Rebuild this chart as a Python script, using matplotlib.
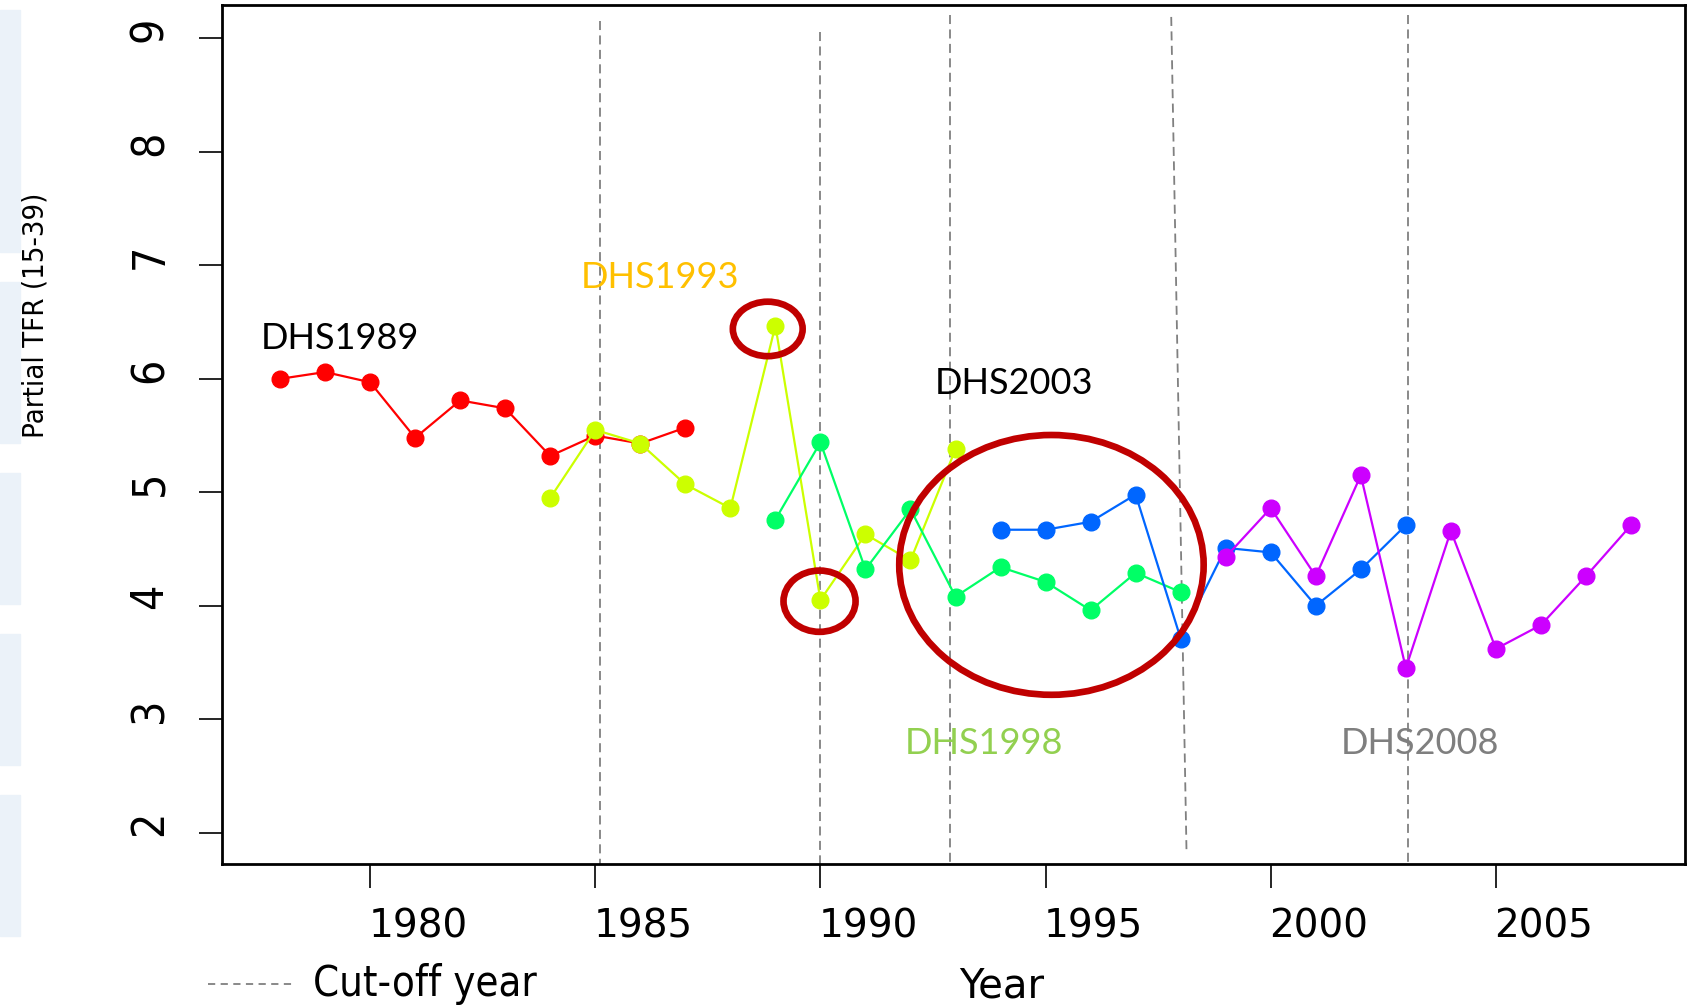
import numpy as np
import matplotlib.pyplot as plt
from matplotlib.patches import Ellipse, Rectangle
from matplotlib.lines import Line2D
from matplotlib.transforms import ScaledTranslation

# partial TFR (15-39) reconstructed from each survey's birth histories
years_1989 = np.arange(1978, 1988)
tfr_1989 = [6.00, 6.06, 5.97, 5.48, 5.81, 5.74, 5.32, 5.50, 5.43, 5.57]

years_1993 = np.arange(1984, 1994)
tfr_1993 = [4.95, 5.55, 5.43, 5.07, 4.86, 6.47, 4.05, 4.63, 4.40, 5.38]

years_1998 = np.arange(1989, 1999)
tfr_1998 = [4.76, 5.44, 4.32, 4.85, 4.08, 4.34, 4.21, 3.96, 4.29, 4.12]

years_2003 = np.arange(1994, 2004)
tfr_2003 = [4.67, 4.67, 4.74, 4.98, 3.71, 4.51, 4.47, 4.00, 4.32, 4.71]

years_2008 = np.arange(1999, 2009)
tfr_2008 = [4.43, 4.86, 4.26, 5.15, 3.45, 4.66, 3.62, 3.83, 4.26, 4.71]

survey_colors = ["#FF0000", "#CCFF00", "#00FF66", "#0066FF", "#CC00FF"]

# survey name labels
label_names = ["DHS1989", "DHS1993", "DHS2003", "DHS1998", "DHS2008"]
label_colors = ["black", "#FFC000", "black", "#92D050", "#7F7F7F"]
label_x = [1977.58, 1984.68, 1992.54, 1991.87, 2001.56]
label_y = [6.36, 6.89, 5.96, 2.79, 2.79]

# cut-off year lines (top and bottom ends)
cut_x_top = [1985.1, 1990.0, 1992.88, 1997.79, 2003.05]
cut_x_bot = [1985.1, 1990.0, 1992.88, 1998.13, 2003.05]
cut_y_top = [9.15, 9.06, 9.21, 9.19, 9.21]
cut_y_bot = [1.724, 1.724, 1.724, 1.82, 1.724]

# highlighted regions: centre x, centre y, width, height
ring_cx = [1988.83, 1989.98, 1995.13]
ring_cy = [6.44, 4.04, 4.36]
ring_w = [1.55, 1.60, 6.76]
ring_h = [0.48, 0.54, 2.29]

narrow = dict(family="DejaVu Sans", stretch="condensed")

fig = plt.figure(figsize=(16.93, 10.06), dpi=100)

# faint watermark strip on the left edge
for y0, y1 in [(0.75, 0.99), (0.56, 0.72), (0.40, 0.53), (0.24, 0.37), (0.07, 0.21)]:
    fig.patches.append(Rectangle((0, y0), 0.012, y1 - y0, transform=fig.transFigure,
                                 color="#ebf2f9", zorder=0))

ax = fig.add_axes([0.1311, 0.1412, 0.8642, 0.8538])

series = [(years_1989, tfr_1989), (years_1993, tfr_1993), (years_1998, tfr_1998),
          (years_2003, tfr_2003), (years_2008, tfr_2008)]
for (xs, ys), c in zip(series, survey_colors):
    ax.plot(xs, ys, "-o", color=c, lw=1.6, ms=12, mec=c, zorder=3)

for xt, xb, yt, yb in zip(cut_x_top, cut_x_bot, cut_y_top, cut_y_bot):
    ax.plot([xt, xb], [yt, yb], color="#808080", lw=1.3, ls=(0, (5, 3)), zorder=2)

for cx, cy, w, h in zip(ring_cx, ring_cy, ring_w, ring_h):
    ax.add_patch(Ellipse((cx, cy), w, h, fill=False, ec="#C00000", lw=4.8, zorder=4))

for name, c, x, y in zip(label_names, label_colors, label_x, label_y):
    ax.text(x, y, name, color=c, fontsize=26, family="Lato", va="center", ha="left")

ax.set_xlim(1976.71, 2009.2)
ax.set_ylim(1.724, 9.295)
ax.set_xticks([1980, 1985, 1990, 1995, 2000, 2005])
ax.set_yticks(range(2, 10))

for s in ax.spines.values():
    s.set_linewidth(2)

ax.tick_params(axis="x", length=17, width=1.2, pad=14, labelsize=28)
ax.tick_params(axis="y", length=16.5, width=1.2, pad=20, labelsize=32,
               labelrotation=90)
for lab in ax.get_xticklabels():
    lab.set_transform(lab.get_transform() + ScaledTranslation(0.48, 0, fig.dpi_scale_trans))
for lab in ax.get_yticklabels():
    lab.set_fontstretch("condensed")
    lab.set_va("center")
    lab.set_transform(lab.get_transform() + ScaledTranslation(0, 0.09, fig.dpi_scale_trans))

fig.text(36 / 1693, 1 - 315 / 1006, "Partial TFR (15-39)", rotation=90,
         fontsize=21, ha="center", va="center", **narrow)
fig.text(1002 / 1693, 1 - 986 / 1006, "Year", fontsize=29, ha="center", va="center")

# legend entry for the dashed cut-off lines
fig.lines.append(Line2D([208 / 1693, 294 / 1693], [1 - 984 / 1006] * 2,
                        transform=fig.transFigure, color="#808080", lw=1.3,
                        ls=(0, (4, 3))))
fig.text(313 / 1693, 1 - 984 / 1006, "Cut-off year", fontsize=30,
         ha="left", va="center", **narrow)

fig.savefig("out.png", dpi=100)
